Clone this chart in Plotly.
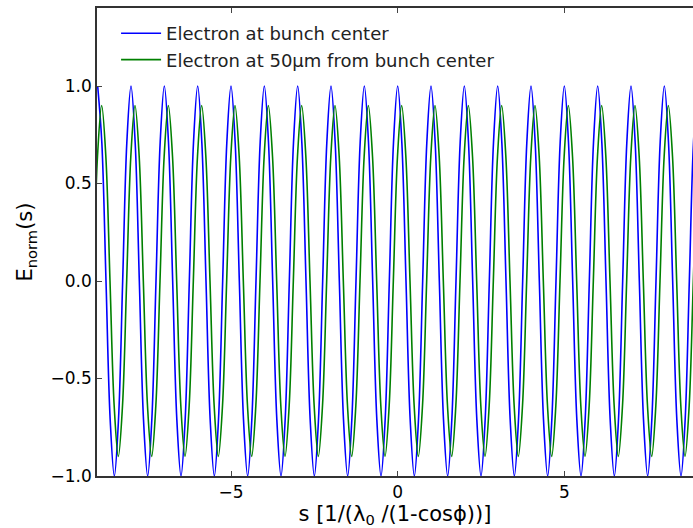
import plotly.graph_objects as go

# One period of each curve, read at eighth-period steps (s offsets and E values)
cycle_phase = [0.0, 0.125, 0.25, 0.375, 0.5, 0.625, 0.75, 0.875]
blue_cycle = [1.0, 0.71, 0.0, -0.71, -1.0, -0.71, 0.0, 0.71]
green_cycle = [0.9, 0.64, 0.0, -0.64, -0.9, -0.64, 0.0, 0.64]

# Peak positions
blue_peaks = [-9, -8, -7, -6, -5, -4, -3, -2, -1, 0, 1, 2, 3, 4, 5, 6, 7, 8, 9]
green_peaks = [-9.88, -8.88, -7.88, -6.88, -5.88, -4.88, -3.88, -2.88, -1.88, -0.88,
               0.12, 1.12, 2.12, 3.12, 4.12, 5.12, 6.12, 7.12, 8.12, 9.12]

series_names = ["Electron at bunch center", "Electron at 50μm from bunch center"]
x_ticks = [-5, 0, 5]
y_ticks = [-1.0, -0.5, 0.0, 0.5, 1.0]


def build(peaks, cycle):
    s, e = [], []
    for p in peaks:
        for ph, v in zip(cycle_phase, cycle):
            s.append(p + ph)
            e.append(v)
    return s, e


bs, be = build(blue_peaks, blue_cycle)
gs, ge = build(green_peaks, green_cycle)

fig = go.Figure()
fig.add_trace(go.Scatter(x=bs, y=be, mode="lines", name=series_names[0],
                         line=dict(color="#0000ff", width=1.6, shape="spline")))
fig.add_trace(go.Scatter(x=gs, y=ge, mode="lines", name=series_names[1],
                         line=dict(color="#008000", width=1.6, shape="spline")))

font = "DejaVu Sans, Verdana, sans-serif"
fig.update_layout(
    width=693, height=528,
    margin=dict(l=97, r=0, t=8, b=52),
    paper_bgcolor="white", plot_bgcolor="white",
    font=dict(family=font, size=17, color="black"),
    showlegend=True,
    legend=dict(x=0.032, y=0.985, xanchor="left", yanchor="top",
                bgcolor="rgba(0,0,0,0)", borderwidth=0, itemwidth=40,
                font=dict(family=font, size=18, color="#222")),
    xaxis=dict(range=[-9.02, 8.86], tickvals=x_ticks, ticks="inside", ticklen=5,
               tickcolor="#444", showgrid=False, zeroline=False, showline=True,
               linecolor="#333", linewidth=1.5, mirror="ticks",
               tickfont=dict(size=17),
               title=dict(text="s [1/(λ<sub>0</sub> /(1-cosϕ))]", font=dict(size=21), standoff=12)),
    yaxis=dict(range=[-1.0, 1.4], tickvals=y_ticks, tickformat=".1f", ticks="inside",
               ticklen=5, tickcolor="#444", showgrid=False, zeroline=False,
               showline=True, linecolor="#333", linewidth=1.5, mirror=False,
               tickfont=dict(size=17),
               title=dict(text="E<sub>norm</sub>(s)", font=dict(size=21), standoff=12)),
)

fig.write_html("out.html")
